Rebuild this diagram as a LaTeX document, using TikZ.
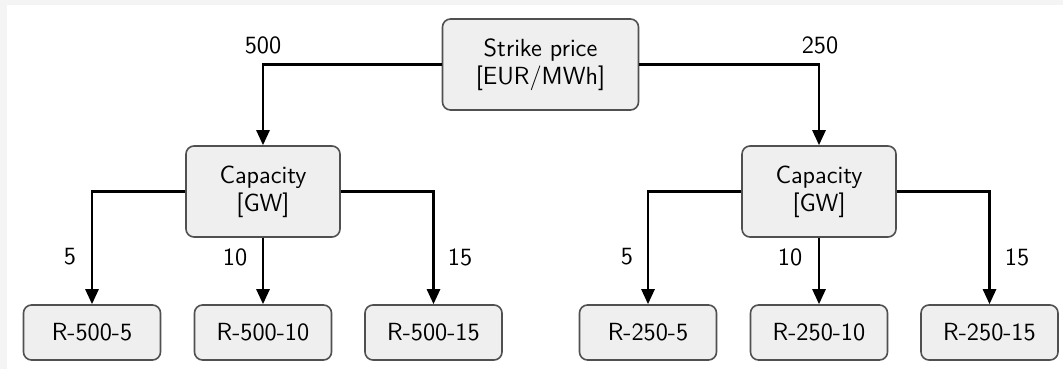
\documentclass[tikz,border=0pt]{standalone}
\usetikzlibrary{arrows.meta}
\definecolor{boxfill}{HTML}{EFEFEF}
\definecolor{boxdraw}{HTML}{505050}
\definecolor{bgedge}{HTML}{F4F4F4}
\begin{document}
\begin{tikzpicture}[x=0.5pt,y=-0.5pt,
  font=\sffamily\fontsize{12.4}{14}\selectfont,
  box/.style={draw=boxdraw,fill=boxfill,rounded corners=4pt,line width=0.8pt,align=center,inner sep=0pt},
  topbox/.style={box,minimum width=98pt,minimum height=45.5pt},
  capbox/.style={box,minimum width=77pt,minimum height=45.5pt},
  leafbox/.style={box,minimum width=68.5pt,minimum height=27.5pt},
  conn/.style={line width=1.3pt,-{Triangle[length=7.5pt,width=6.5pt]}},
  lbl/.style={inner sep=0pt}]
\fill[bgedge] (0,0) rectangle (1063,369);
\fill[white] (7,5) rectangle (1063,369);
\useasboundingbox (0,0) rectangle (1063,369);

\node[topbox] (sp) at (540.5,64.5) {Strike price\\{[EUR/MWh]}};
\node[capbox] (c1) at (263,191.5) {Capacity\\{[GW]}};
\node[capbox] (c2) at (819,191.5) {Capacity\\{[GW]}};

\node[leafbox] (a1) at (92,332.5) {R-500-5};
\node[leafbox] (a2) at (263,332.5) {R-500-10};
\node[leafbox] (a3) at (433.5,332.5) {R-500-15};
\node[leafbox] (b1) at (648,332.5) {R-250-5};
\node[leafbox] (b2) at (819,332.5) {R-250-10};
\node[leafbox] (b3) at (989.5,332.5) {R-250-15};

\draw[conn] (sp.west) -| (c1.north);
\draw[conn] (sp.east) -| (c2.north);
\draw[conn] (c1.west) -| (a1.north);
\draw[conn] (c1.south) -- (a2.north);
\draw[conn] (c1.east) -| (a3.north);
\draw[conn] (c2.west) -| (b1.north);
\draw[conn] (c2.south) -- (b2.north);
\draw[conn] (c2.east) -| (b3.north);

\node[lbl] (l500) at (263,45) {500};
\node[lbl] (l250) at (820,45) {250};
\node[lbl] (la1) at (70,257) {5};
\node[lbl] (la2) at (235,257) {10};
\node[lbl] (la3) at (460,257) {15};
\node[lbl] (lb1) at (627,257) {5};
\node[lbl] (lb2) at (790,257) {10};
\node[lbl] (lb3) at (1017,257) {15};
\end{tikzpicture}
\end{document}
